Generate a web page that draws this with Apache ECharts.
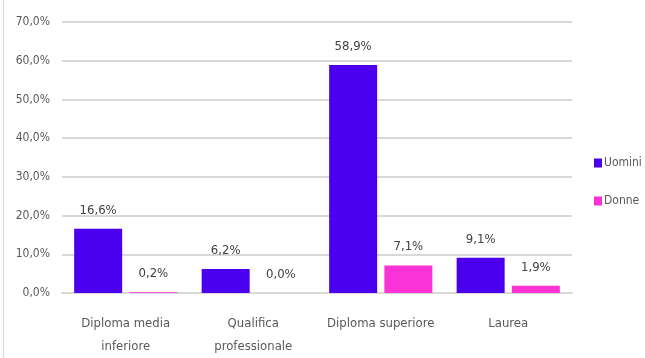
<!DOCTYPE html>
<html><head><meta charset="utf-8">
<script src="https://cdn.jsdelivr.net/npm/echarts@6/dist/echarts.min.js"></script>
<style>html,body{margin:0;padding:0;background:#fff}#c{width:645px;height:358px}</style>
</head><body><div id="c"></div>
<script>
const categories = ['Diploma media\ninferiore', 'Qualifica\nprofessionale', 'Diploma superiore', 'Laurea'];
const uomini = [16.6, 6.2, 58.9, 9.1];
const donne = [0.2, 0.0, 7.1, 1.9];
const seriesNames = ['Uomini', 'Donne'];
const yTicks = [0, 10, 20, 30, 40, 50, 60, 70];

const FONT = '"Liberation Sans Narrow", "DejaVu Sans Condensed", "Liberation Sans", sans-serif';
const fmt = v => v.toFixed(1).replace('.', ',') + '%';
const chart = echarts.init(document.getElementById('c'));
chart.setOption({
  animation: false,
  textStyle: { fontFamily: FONT },
  graphic: [{ type: 'line', shape: { x1: 3.5, y1: 0, x2: 3.5, y2: 358 }, style: { stroke: '#d9d9d9', lineWidth: 1 } }],
  grid: { left: 62, right: 73, top: 22, bottom: 63 },
  legend: {
    orient: 'vertical', left: 589, top: 152, itemGap: 26,
    itemWidth: 8, itemHeight: 9, icon: 'rect',
    textStyle: { fontFamily: FONT, fontSize: 12, color: '#595959', padding: [0, 0, 0, -3] },
    data: seriesNames
  },
  xAxis: {
    type: 'category', data: categories,
    axisLine: { show: true, lineStyle: { color: '#d9d9d9', width: 2 } },
    axisTick: { show: false },
    axisLabel: { fontFamily: FONT, fontSize: 13, color: '#595959', margin: 19, lineHeight: 23, interval: 0 }
  },
  yAxis: {
    type: 'value', min: yTicks[0], max: yTicks[yTicks.length - 1], interval: 10,
    axisLine: { show: false }, axisTick: { show: false },
    splitLine: { lineStyle: { color: '#d9d9d9', width: 2 } },
    axisLabel: { fontFamily: FONT, fontSize: 12, color: '#595959', margin: 12, formatter: v => fmt(v) }
  },
  series: [
    { name: seriesNames[0], type: 'bar', data: uomini, barWidth: 48, barGap: '15%',
      itemStyle: { color: '#4a00ee' },
      label: { show: true, position: 'top', distance: 12, fontFamily: FONT, fontSize: 13, color: '#404040', formatter: p => fmt(p.value) } },
    { name: seriesNames[1], type: 'bar', data: donne, barWidth: 48,
      itemStyle: { color: '#f933d6' },
      label: { show: true, position: 'top', distance: 12, fontFamily: FONT, fontSize: 13, color: '#404040', formatter: p => fmt(p.value) } }
  ]
});
</script></body></html>
